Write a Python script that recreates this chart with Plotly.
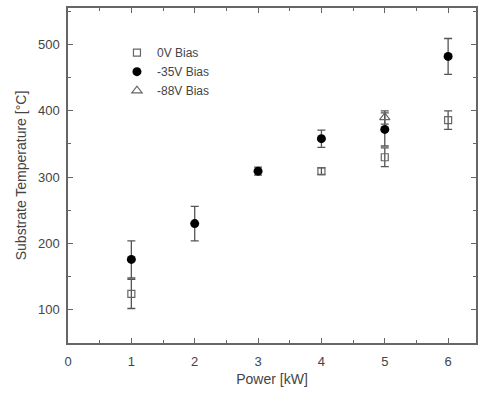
import plotly.graph_objects as go

power_0v = [1, 4, 5, 6]
temp_0v = [124, 309, 330, 386]
err_0v = [22, 5, 14, 14]

power_35v = [1, 2, 3, 4, 5, 6]
temp_35v = [176, 230, 309, 358, 372, 482]
err_35v = [28, 26, 6, 13, 25, 27]

power_88v = [5]
temp_88v = [390]
err_88v = [10]

x_ticks = [0, 1, 2, 3, 4, 5, 6]
y_ticks = [100, 200, 300, 400, 500]

FONT = "Liberation Sans, Arial"
fig = go.Figure()
ecol = "#555"
fig.add_trace(go.Scatter(x=power_35v, y=temp_35v, mode="markers", name="-35V Bias",
    marker=dict(symbol="circle", size=9, color="black"),
    error_y=dict(type="data", array=err_35v, color=ecol, thickness=1.3, width=4)))
fig.add_trace(go.Scatter(x=power_0v, y=temp_0v, mode="markers", name="0V Bias",
    marker=dict(symbol="square-open", size=7, color="#666", line=dict(width=1.2)),
    error_y=dict(type="data", array=err_0v, color=ecol, thickness=1.3, width=4)))
fig.add_trace(go.Scatter(x=power_88v, y=temp_88v, mode="markers", name="-88V Bias",
    marker=dict(symbol="triangle-up-open", size=9, color="#666", line=dict(width=1.2)),
    error_y=dict(type="data", array=err_88v, color=ecol, thickness=1.3, width=4)))

axis_common = dict(showline=True, linecolor="#666", linewidth=1.5, mirror="allticks",
    ticks="inside", tickcolor="#666", ticklen=5, tickwidth=1.2, showgrid=False, zeroline=False,
    tickfont=dict(family=FONT, size=13, color="#444"))

fig.update_layout(
    width=479, height=394,
    margin=dict(l=68, r=1, t=8, b=51),
    plot_bgcolor="white", paper_bgcolor="white",
    showlegend=True,
    legend=dict(x=0.12, y=0.91, xanchor="left", yanchor="top", traceorder="normal",
        font=dict(family=FONT, size=12, color="#444"),
        bgcolor="rgba(0,0,0,0)", itemwidth=30, tracegroupgap=0),
    xaxis=dict(range=[0, 6.44], tickvals=x_ticks, ticklabelstandoff=6,
        minor=dict(dtick=0.5, ticks="inside", ticklen=3, tickcolor="#666"),
        title=dict(text="Power [kW]", font=dict(family=FONT, size=14, color="#444"), standoff=6),
        **axis_common),
    yaxis=dict(range=[50, 555], tickvals=y_ticks, ticklabelstandoff=4,
        minor=dict(dtick=50, ticks="inside", ticklen=3, tickcolor="#666"),
        title=dict(text="Substrate Temperature [°C]", font=dict(family=FONT, size=14, color="#444"), standoff=8),
        **axis_common),
)
fig.data[1].legendrank = 1
fig.data[0].legendrank = 2
fig.data[2].legendrank = 3

fig.write_html("out.html")
